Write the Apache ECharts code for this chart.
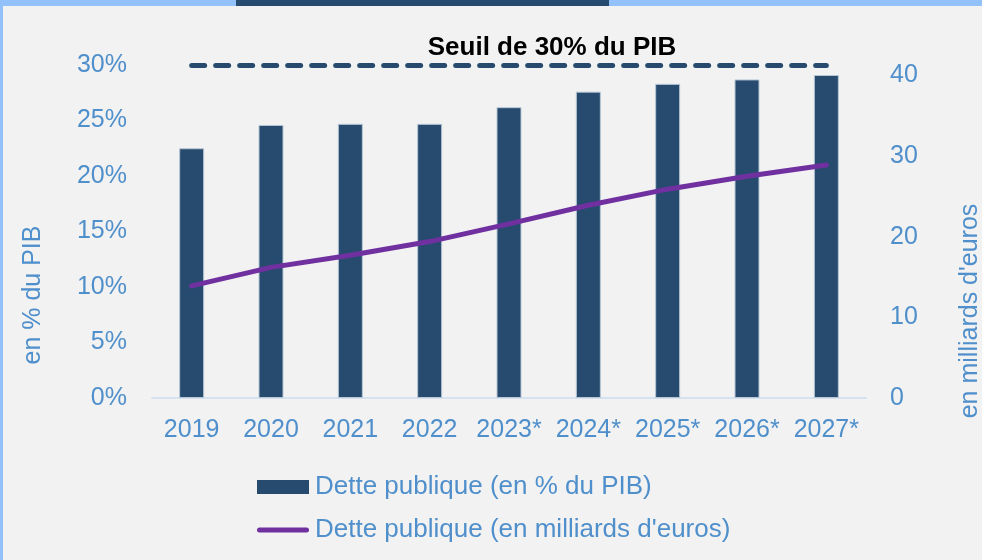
<!DOCTYPE html>
<html>
<head>
<meta charset="utf-8">
<script src="https://cdn.jsdelivr.net/npm/echarts@6/dist/echarts.min.js"></script>
<style>
  html, body { margin: 0; padding: 0; background: #f2f2f2; }
  #chart { width: 982px; height: 560px; }
</style>
</head>
<body>
<div id="chart"></div>
<script>
// données
var years = ["2019", "2020", "2021", "2022", "2023*", "2024*", "2025*", "2026*", "2027*"];
var dettePib = [22.5, 24.6, 24.7, 24.7, 26.2, 27.6, 28.3, 28.7, 29.1];
var detteMds = [13.9, 16.2, 17.7, 19.4, 21.6, 23.9, 25.9, 27.5, 28.9];
var seuil = 30;
var pctTicks = [0, 5, 10, 15, 20, 25, 30];
var mdsTicks = [0, 10, 20, 30, 40];

var labelColor = "#4f8fcb";
var navy = "#264b6e";
var purple = "#7030a0";

// icône de légende : trait arrondi (boîte 52x14)
var lineIcon = "path://M0,0 M52,14 M2.5,4.5 L49.5,4.5 A2.5,2.5 0 0 1 49.5,9.5 L2.5,9.5 A2.5,2.5 0 0 1 2.5,4.5 Z";

var myChart = echarts.init(document.getElementById("chart"));

var option = {
    backgroundColor: "#f2f2f2",
    animation: false,
    textStyle: { fontFamily: "Liberation Sans, Arial, sans-serif" },
    grid: {
        left: 152,
        right: 116,
        top: 65,
        bottom: 162,
        containLabel: false,
        outerBoundsMode: "none"
    },
    // bandeau du haut + titres d'axes
    graphic: [
        { type: "rect", left: 0, top: 0, shape: { width: 982, height: 6 }, style: { fill: "#93c1fa" } },
        { type: "rect", left: 236, top: 0, shape: { width: 373, height: 6 }, style: { fill: navy } },
        { type: "rect", left: 0, top: 0, shape: { width: 3, height: 560 }, style: { fill: "#93c1fa" } },
        {
            type: "text", x: 552, y: 48,
            style: { text: "Seuil de 30% du PIB", fill: "#000", font: "bold 26px Liberation Sans, Arial, sans-serif", align: "center", verticalAlign: "middle" }
        },
        {
            type: "text", x: 33, y: 295, rotation: Math.PI / 2,
            style: { text: "en % du PIB", fill: labelColor, font: "25px Liberation Sans, Arial, sans-serif", align: "center", verticalAlign: "middle" }
        },
        {
            type: "text", x: 970, y: 311, rotation: Math.PI / 2,
            style: { text: "en milliards d'euros", fill: labelColor, font: "25px Liberation Sans, Arial, sans-serif", align: "center", verticalAlign: "middle" }
        }
    ],
    legend: {
        orient: "vertical",
        left: 257,
        top: 474,
        padding: 0,
        itemWidth: 52,
        itemHeight: 14,
        itemGap: 17,
        textStyle: { color: labelColor, fontSize: 26, padding: [0, 0, 0, 1] },
        data: [
            { name: "Dette publique (en % du PIB)", icon: "rect", itemStyle: { borderWidth: 0 } },
            { name: "Dette publique (en milliards d'euros)", icon: lineIcon, itemStyle: { color: purple, borderWidth: 0 } }
        ]
    },
    xAxis: {
        type: "category",
        data: years,
        axisLine: { lineStyle: { color: "#d5e3f0", width: 2 } },
        axisTick: { show: false },
        axisLabel: { color: labelColor, fontSize: 25, margin: 20, interval: 0 },
        splitLine: { show: false }
    },
    yAxis: [
        {
            type: "value",
            min: pctTicks[0],
            max: pctTicks[pctTicks.length - 1],
            interval: 5,
            axisLine: { show: false },
            axisTick: { show: false },
            splitLine: { show: false },
            axisLabel: { color: labelColor, fontSize: 25, margin: 25, padding: [4, 0, 0, 0], formatter: "{value}%" }
        },
        {
            type: "value",
            min: mdsTicks[0],
            max: 41.3,
            interval: 10,
            position: "right",
            axisLine: { show: false },
            axisTick: { show: false },
            splitLine: { show: false },
            axisLabel: {
                color: labelColor, fontSize: 25, margin: 24, padding: [4, 0, 0, 0],
                formatter: function (v) {
                    return mdsTicks.indexOf(v) >= 0 ? String(v) : "";
                }
            }
        }
    ],
    series: [
        {
            name: "Dette publique (en % du PIB)",
            type: "bar",
            yAxisIndex: 0,
            barWidth: 25,
            data: dettePib,
            itemStyle: { color: navy, borderColor: "#b7c7d6", borderWidth: 1 },
            markLine: {
                silent: true,
                symbol: "none",
                label: { show: false },
                lineStyle: { color: navy, width: 5, type: [13, 11], cap: "round" },
                data: [[{ coord: [0, seuil] }, { coord: [years.length - 1, seuil] }]]
            }
        },
        {
            name: "Dette publique (en milliards d'euros)",
            type: "line",
            yAxisIndex: 1,
            data: detteMds,
            symbol: "none",
            lineStyle: { color: purple, width: 5, cap: "round" },
            itemStyle: { color: purple }
        }
    ]
};

myChart.setOption(option);
window.addEventListener("resize", function () {
    myChart.resize();
});
</script>
</body>
</html>
